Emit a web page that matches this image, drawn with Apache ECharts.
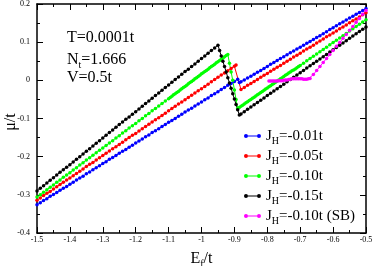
<!DOCTYPE html>
<html><head><meta charset="utf-8">
<script src="https://cdn.jsdelivr.net/npm/echarts@6/dist/echarts.min.js"></script>
<style>html,body{margin:0;padding:0;background:#fff}#c{width:374px;height:266px}</style>
</head><body><div id="c"></div>
<script>
const xTicks = { min: -1.5, max: -0.5, step: 0.1 };
const yTicks = { min: -0.4, max: 0.2, step: 0.1 };
const seriesNames = ['J_H=-0.01t','J_H=-0.05t','J_H=-0.10t','J_H=-0.15t','J_H=-0.10t (SB)'];
const seriesColors = ['#0000ff','#ff0000','#00ff00','#000000','#ff00ff'];

const muBlue = [[-1.50,-0.326],[-1.49,-0.321],[-1.48,-0.315],[-1.47,-0.310],[-1.46,-0.304],[-1.45,-0.299],[-1.44,-0.294],[-1.43,-0.288],[-1.42,-0.283],[-1.41,-0.278],
[-1.40,-0.272],[-1.39,-0.267],[-1.38,-0.261],[-1.37,-0.256],[-1.36,-0.251],[-1.35,-0.245],[-1.34,-0.240],[-1.33,-0.234],[-1.32,-0.229],[-1.31,-0.224],
[-1.30,-0.218],[-1.29,-0.213],[-1.28,-0.207],[-1.27,-0.202],[-1.26,-0.197],[-1.25,-0.191],[-1.24,-0.186],[-1.23,-0.181],[-1.22,-0.175],[-1.21,-0.170],
[-1.20,-0.164],[-1.19,-0.159],[-1.18,-0.154],[-1.17,-0.148],[-1.16,-0.143],[-1.15,-0.137],[-1.14,-0.132],[-1.13,-0.127],[-1.12,-0.121],[-1.11,-0.116],
[-1.10,-0.110],[-1.09,-0.105],[-1.08,-0.100],[-1.07,-0.094],[-1.06,-0.089],[-1.05,-0.083],[-1.04,-0.078],[-1.03,-0.073],[-1.02,-0.067],[-1.01,-0.062],
[-1.00,-0.057],[-0.99,-0.051],[-0.98,-0.046],[-0.97,-0.040],[-0.96,-0.035],[-0.95,-0.030],[-0.94,-0.024],[-0.93,-0.019],[-0.92,-0.013],[-0.91,-0.008],
[-0.90,-0.003],[-0.89,0.003],[-0.885,-0.006],[-0.88,-0.004],[-0.87,0.001],[-0.86,0.006],[-0.85,0.011],[-0.84,0.016],[-0.83,0.021],[-0.82,0.026],[-0.81,0.031],
[-0.80,0.036],[-0.79,0.042],[-0.78,0.047],[-0.77,0.052],[-0.76,0.057],[-0.75,0.062],[-0.74,0.067],[-0.73,0.072],[-0.72,0.077],[-0.71,0.082],
[-0.70,0.087],[-0.69,0.092],[-0.68,0.097],[-0.67,0.102],[-0.66,0.107],[-0.65,0.112],[-0.64,0.117],[-0.63,0.122],[-0.62,0.127],[-0.61,0.133],
[-0.60,0.138],[-0.59,0.143],[-0.58,0.148],[-0.57,0.153],[-0.56,0.158],[-0.55,0.163],[-0.54,0.168],[-0.53,0.173],[-0.52,0.178],[-0.51,0.183],[-0.50,0.188]];

const muRed = [[-1.50,-0.314],[-1.49,-0.308],[-1.48,-0.302],[-1.47,-0.296],[-1.46,-0.291],[-1.45,-0.285],[-1.44,-0.279],[-1.43,-0.273],[-1.42,-0.267],[-1.41,-0.261],
[-1.40,-0.256],[-1.39,-0.250],[-1.38,-0.244],[-1.37,-0.238],[-1.36,-0.232],[-1.35,-0.226],[-1.34,-0.220],[-1.33,-0.215],[-1.32,-0.209],[-1.31,-0.203],
[-1.30,-0.197],[-1.29,-0.191],[-1.28,-0.185],[-1.27,-0.179],[-1.26,-0.174],[-1.25,-0.168],[-1.24,-0.162],[-1.23,-0.156],[-1.22,-0.150],[-1.21,-0.144],
[-1.20,-0.139],[-1.19,-0.133],[-1.18,-0.127],[-1.17,-0.121],[-1.16,-0.115],[-1.15,-0.109],[-1.14,-0.103],[-1.13,-0.098],[-1.12,-0.092],[-1.11,-0.086],
[-1.10,-0.080],[-1.09,-0.074],[-1.08,-0.068],[-1.07,-0.062],[-1.06,-0.057],[-1.05,-0.051],[-1.04,-0.045],[-1.03,-0.039],[-1.02,-0.033],[-1.01,-0.027],
[-1.00,-0.022],[-0.99,-0.016],[-0.98,-0.010],[-0.97,-0.004],[-0.96,0.002],[-0.95,0.008],[-0.94,0.014],[-0.93,0.019],[-0.92,0.025],[-0.91,0.031],
[-0.90,0.037],[-0.895,0.040],[-0.88,-0.024],[-0.87,-0.019],[-0.86,-0.013],[-0.85,-0.008],[-0.84,-0.003],[-0.83,0.002],[-0.82,0.008],[-0.81,0.013],
[-0.80,0.018],[-0.79,0.024],[-0.78,0.029],[-0.77,0.034],[-0.76,0.039],[-0.75,0.045],[-0.74,0.050],[-0.73,0.055],[-0.72,0.061],[-0.71,0.066],
[-0.70,0.071],[-0.69,0.077],[-0.68,0.082],[-0.67,0.087],[-0.66,0.092],[-0.65,0.098],[-0.64,0.103],[-0.63,0.108],[-0.62,0.114],[-0.61,0.119],
[-0.60,0.124],[-0.59,0.129],[-0.58,0.135],[-0.57,0.140],[-0.56,0.145],[-0.55,0.151],[-0.54,0.156],[-0.53,0.161],[-0.52,0.166],[-0.51,0.172],[-0.50,0.177]];

const muGreen = [[-1.50,-0.306],[-1.49,-0.300],[-1.48,-0.293],[-1.47,-0.287],[-1.46,-0.280],[-1.45,-0.274],[-1.44,-0.267],[-1.43,-0.261],[-1.42,-0.254],[-1.41,-0.248],
[-1.40,-0.242],[-1.39,-0.235],[-1.38,-0.229],[-1.37,-0.222],[-1.36,-0.216],[-1.35,-0.209],[-1.34,-0.203],[-1.33,-0.196],[-1.32,-0.190],[-1.31,-0.183],
[-1.30,-0.177],[-1.29,-0.171],[-1.28,-0.164],[-1.27,-0.158],[-1.26,-0.151],[-1.25,-0.145],[-1.24,-0.138],[-1.23,-0.132],[-1.22,-0.125],[-1.21,-0.119],
[-1.20,-0.113],[-1.19,-0.106],[-1.18,-0.100],[-1.17,-0.093],[-1.16,-0.087],[-1.15,-0.080],[-1.14,-0.074],[-1.13,-0.067],[-1.12,-0.061],[-1.11,-0.054],
[-1.10,-0.048],[-1.095,-0.045],[-1.09,-0.042],[-1.085,-0.038],[-1.08,-0.035],[-1.075,-0.032],[-1.07,-0.029],[-1.065,-0.025],[-1.06,-0.022],[-1.055,-0.019],
[-1.05,-0.016],[-1.045,-0.013],[-1.04,-0.009],[-1.035,-0.006],[-1.03,-0.003],[-1.025,0.000],[-1.02,0.004],[-1.015,0.007],[-1.01,0.010],[-1.005,0.013],
[-1.00,0.017],[-0.995,0.020],[-0.99,0.023],[-0.985,0.026],[-0.98,0.029],[-0.975,0.033],[-0.97,0.036],[-0.965,0.039],[-0.96,0.042],[-0.955,0.046],
[-0.95,0.049],[-0.945,0.052],[-0.94,0.055],[-0.935,0.058],[-0.93,0.062],[-0.925,0.065],[-0.92,0.068],[-0.915,0.045],[-0.91,0.022],[-0.905,0.000],
[-0.90,-0.025],[-0.895,-0.050],[-0.89,-0.074],[-0.885,-0.071],[-0.88,-0.068],[-0.875,-0.065],[-0.87,-0.062],[-0.865,-0.059],[-0.86,-0.056],[-0.855,-0.053],
[-0.85,-0.050],[-0.845,-0.047],[-0.84,-0.044],[-0.835,-0.041],[-0.83,-0.038],[-0.825,-0.035],[-0.82,-0.032],[-0.815,-0.029],[-0.81,-0.026],[-0.805,-0.023],
[-0.80,-0.020],[-0.795,-0.017],[-0.79,-0.014],[-0.785,-0.011],[-0.78,-0.008],[-0.775,-0.005],[-0.77,-0.002],[-0.765,0.001],[-0.76,0.004],[-0.755,0.007],
[-0.75,0.010],[-0.745,0.013],[-0.74,0.016],[-0.735,0.019],[-0.73,0.022],[-0.725,0.025],[-0.72,0.027],[-0.715,0.030],[-0.71,0.033],[-0.705,0.036],
[-0.70,0.039],[-0.69,0.045],[-0.68,0.051],[-0.67,0.057],[-0.66,0.063],[-0.65,0.069],[-0.64,0.075],[-0.63,0.081],[-0.62,0.087],[-0.61,0.093],
[-0.60,0.099],[-0.59,0.105],[-0.58,0.111],[-0.57,0.117],[-0.56,0.123],[-0.55,0.129],[-0.54,0.135],[-0.53,0.141],[-0.52,0.147],[-0.51,0.153],[-0.50,0.159]];

const muBlack = [[-1.50,-0.290],[-1.49,-0.283],[-1.48,-0.276],[-1.47,-0.269],[-1.46,-0.262],[-1.45,-0.255],[-1.44,-0.248],[-1.43,-0.241],[-1.42,-0.234],[-1.41,-0.228],
[-1.40,-0.221],[-1.39,-0.214],[-1.38,-0.207],[-1.37,-0.200],[-1.36,-0.193],[-1.35,-0.186],[-1.34,-0.179],[-1.33,-0.172],[-1.32,-0.165],[-1.31,-0.158],
[-1.30,-0.151],[-1.29,-0.144],[-1.28,-0.137],[-1.27,-0.130],[-1.26,-0.123],[-1.25,-0.116],[-1.24,-0.109],[-1.23,-0.102],[-1.22,-0.096],[-1.21,-0.089],
[-1.20,-0.082],[-1.19,-0.075],[-1.18,-0.068],[-1.17,-0.061],[-1.16,-0.054],[-1.15,-0.047],[-1.14,-0.040],[-1.13,-0.033],[-1.12,-0.026],[-1.11,-0.019],
[-1.10,-0.012],[-1.09,-0.005],[-1.08,0.002],[-1.07,0.009],[-1.06,0.016],[-1.05,0.023],[-1.04,0.029],[-1.03,0.036],[-1.02,0.043],[-1.01,0.050],
[-1.00,0.057],[-0.99,0.064],[-0.98,0.071],[-0.97,0.078],[-0.96,0.085],[-0.95,0.092],[-0.945,0.078],[-0.94,0.064],[-0.935,0.050],[-0.93,0.036],
[-0.925,0.022],[-0.92,0.007],[-0.915,-0.007],[-0.91,-0.021],[-0.905,-0.035],[-0.90,-0.049],[-0.895,-0.063],[-0.89,-0.077],[-0.885,-0.091],
[-0.88,-0.088],[-0.87,-0.082],[-0.86,-0.076],[-0.85,-0.070],[-0.84,-0.064],[-0.83,-0.058],[-0.82,-0.052],[-0.81,-0.046],
[-0.80,-0.040],[-0.79,-0.034],[-0.78,-0.028],[-0.77,-0.022],[-0.76,-0.016],[-0.75,-0.010],[-0.74,-0.004],[-0.73,0.002],[-0.72,0.008],[-0.71,0.014],
[-0.70,0.020],[-0.69,0.026],[-0.68,0.032],[-0.67,0.038],[-0.66,0.044],[-0.65,0.050],[-0.64,0.056],[-0.63,0.062],[-0.62,0.068],[-0.61,0.074],
[-0.60,0.080],[-0.59,0.086],[-0.58,0.092],[-0.57,0.098],[-0.56,0.104],[-0.55,0.110],[-0.54,0.116],[-0.53,0.122],[-0.52,0.128],[-0.51,0.134],[-0.50,0.140]];

const muMagenta = [[-0.795,-0.002],[-0.79,-0.002],[-0.785,-0.002],[-0.78,-0.002],[-0.775,-0.002],[-0.77,-0.002],[-0.765,-0.001],[-0.76,-0.001],[-0.755,-0.001],
[-0.75,0.000],[-0.745,0.001],[-0.74,0.001],[-0.735,0.002],[-0.73,0.003],[-0.725,0.004],[-0.72,0.004],[-0.715,0.004],[-0.71,0.004],[-0.705,0.004],
[-0.70,0.004],[-0.695,0.004],[-0.69,0.003],[-0.685,0.003],[-0.68,0.003],[-0.675,0.004],[-0.67,0.005],[-0.66,0.015],[-0.65,0.026],[-0.64,0.036],
[-0.63,0.047],[-0.62,0.057],[-0.61,0.068],[-0.60,0.078],[-0.59,0.089],[-0.58,0.099],[-0.57,0.110],[-0.56,0.120],[-0.55,0.131],[-0.54,0.141],
[-0.53,0.152],[-0.52,0.162],[-0.51,0.173],[-0.50,0.183]];

const allData = [muBlue, muRed, muGreen, muBlack, muMagenta];
const FONT = 'Liberation Serif';
const legendIcon = 'path://M0,4 A4,4 0 1 1 8,4 A4,4 0 1 1 0,4 Z M7,3 L27,3 L27,5 L7,5 Z M26,4 A4,4 0 1 1 34,4 A4,4 0 1 1 26,4 Z';

const chart = echarts.init(document.getElementById('c'), null, { renderer: 'canvas' });
const axisCommon = {
  type: 'value',
  axisLine: { show: true, onZero: false, lineStyle: { color: '#000', width: 1.5 } },
  axisTick: { show: true, inside: true, length: 6, lineStyle: { color: '#000', width: 1 } },
  minorTick: { show: true, splitNumber: 2, length: 3, lineStyle: { color: '#000', width: 1 } },
  splitLine: { show: false },
  minorSplitLine: { show: false }
};
const option = {
  animation: false,
  backgroundColor: '#fff',
  grid: { left: 37, right: 8, top: 4, bottom: 33, containLabel: false, outerBoundsMode: 'none' },
  xAxis: [
    Object.assign({}, axisCommon, {
      position: 'bottom', min: xTicks.min, max: xTicks.max, interval: xTicks.step,
      axisLabel: { show: true, fontFamily: FONT, fontSize: 8, color: '#000', margin: 3 },
      name: '{n|E}{s|f}{n|/t}', nameLocation: 'middle', nameGap: 12,
      nameTextStyle: { rich: {
        n: { fontFamily: FONT, fontSize: 16, lineHeight: 16, color: '#000' },
        s: { fontFamily: FONT, fontSize: 10, lineHeight: 16, padding: [10, 0, 0, 0], color: '#000' } } }
    }),
    Object.assign({}, axisCommon, {
      position: 'top', min: xTicks.min, max: xTicks.max, interval: xTicks.step,
      axisLabel: { show: false }
    })
  ],
  yAxis: [
    Object.assign({}, axisCommon, {
      position: 'left', min: yTicks.min, max: yTicks.max, interval: yTicks.step,
      axisLabel: { show: true, fontFamily: FONT, fontSize: 8, color: '#000', margin: 7 }
    }),
    Object.assign({}, axisCommon, {
      position: 'right', min: yTicks.min, max: yTicks.max, interval: yTicks.step,
      axisLabel: { show: false }
    })
  ],
  legend: {
    orient: 'vertical', right: 14, top: 121, align: 'left',
    itemWidth: 17, itemHeight: 4, itemGap: 0,
    icon: legendIcon,
    data: seriesNames,
    formatter: function (name) { return '{n|J}{s|H}{n|' + name.slice(3) + '}'; },
    textStyle: { rich: {
      n: { fontFamily: FONT, fontSize: 15, lineHeight: 14, color: '#000' },
      s: { fontFamily: FONT, fontSize: 10, lineHeight: 14, padding: [10, 0, 0, 0], color: '#000' } } }
  },
  graphic: [
    { type: 'text', x: 11, y: 122, rotation: Math.PI / 2,
      style: { text: 'μ/t', font: '16px "Liberation Serif"', fill: '#000', align: 'center', verticalAlign: 'middle' } },
    { type: 'text', left: 67, top: 30, style: { text: 'T=0.0001t', font: '16px "Liberation Serif"', fill: '#000' } },
    { type: 'text', left: 67, top: 50, style: { text: '{n|N}{s|t}{n|=1.666}', fill: '#000', rich: {
        n: { fontFamily: FONT, fontSize: 16, lineHeight: 16, fill: '#000' },
        s: { fontFamily: FONT, fontSize: 10, lineHeight: 16, padding: [10, 0, 0, 0], fill: '#000' } } } },
    { type: 'text', left: 67, top: 70, style: { text: 'V=0.5t', font: '16px "Liberation Serif"', fill: '#000' } }
  ],
  series: allData.map(function (d, i) {
    return {
      name: seriesNames[i], type: 'line', data: d, xAxisIndex: 0, yAxisIndex: 0,
      symbol: 'circle', symbolSize: 3.5, showSymbol: true,
      lineStyle: { color: seriesColors[i], width: 1 },
      itemStyle: { color: seriesColors[i] },
      emphasis: { disabled: true }
    };
  })
};
chart.setOption(option);
</script></body></html>
